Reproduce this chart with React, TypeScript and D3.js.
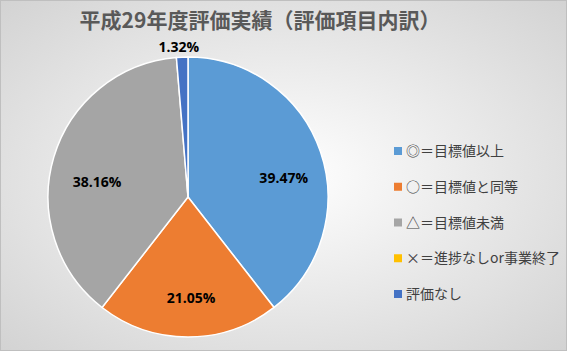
import React, { useEffect, useRef } from 'react';
import * as d3 from 'd3';

const title = '平成29年度評価実績（評価項目内訳）';
const categories = ['◎＝目標値以上', '○＝目標値と同等', '△＝目標値未満', '×＝進捗なしor事業終了', '評価なし'];
const values = [39.47, 21.05, 38.16, 0, 1.32];
const colors = ['#5B9BD5', '#ED7D31', '#A5A5A5', '#FFC000', '#4472C4'];

const App = () => {
  const chartRef = useRef<SVGSVGElement | null>(null);

  useEffect(() => {
    const width = 567;
    const height = 351;
    const svg = d3.select(chartRef.current);
    svg.selectAll('*').remove();

    // background gradient like the office chart area
    const defs = svg.append('defs');
    const grad = defs
      .append('radialGradient')
      .attr('id', 'bg')
      .attr('cx', '50%')
      .attr('cy', '50%')
      .attr('r', '75%');
    grad.append('stop').attr('offset', '0%').attr('stop-color', '#ffffff');
    grad.append('stop').attr('offset', '100%').attr('stop-color', '#d0d0d0');

    svg
      .append('rect')
      .attr('x', 0.5)
      .attr('y', 0.5)
      .attr('width', width - 1)
      .attr('height', height - 1)
      .attr('fill', 'url(#bg)')
      .attr('stroke', '#bfbfbf');

    svg
      .append('text')
      .attr('x', 260)
      .attr('y', 28)
      .attr('text-anchor', 'middle')
      .attr('font-family', '"Noto Sans CJK JP", sans-serif')
      .attr('font-size', 21)
      .attr('font-weight', 'bold')
      .attr('fill', '#595959')
      .text(title);

    const cx = 188;
    const cy = 197;
    const radius = 140;

    const pie = d3
      .pie<number>()
      .sort(null)
      .value((d) => d);
    const arcs = pie(values);
    const arc = d3.arc<d3.PieArcDatum<number>>().innerRadius(0).outerRadius(radius);

    const g = svg.append('g').attr('transform', `translate(${cx}, ${cy})`);

    g.selectAll('path')
      .data(arcs.filter((d) => d.data > 0))
      .enter()
      .append('path')
      .attr('d', arc)
      .attr('fill', (d) => colors[d.index])
      .attr('stroke', '#ffffff')
      .attr('stroke-width', 1.5);

    const inner = d3.arc<d3.PieArcDatum<number>>().innerRadius(radius * 0.7).outerRadius(radius * 0.7);
    const outer = d3.arc<d3.PieArcDatum<number>>().innerRadius(radius * 1.07).outerRadius(radius * 1.07);

    g.selectAll('text.lbl')
      .data(arcs.filter((d) => d.data > 0))
      .enter()
      .append('text')
      .attr('class', 'lbl')
      .attr('transform', (d) => {
        if (d.data < 5) {
          const [x, y] = outer.centroid(d);
          return `translate(${x - 3}, ${y})`;
        }
        const [x, y] = inner.centroid(d);
        // excel-like best fit sits a bit lower on the sides
        return `translate(${x + 3}, ${y + 3 + (10 * Math.abs(x)) / (radius * 0.7)})`;
      })
      .attr('text-anchor', 'middle')
      .attr('dy', '0.35em')
      .attr('font-family', '"Open Sans", sans-serif')
      .attr('font-size', 14)
      .attr('font-weight', 'bold')
      .attr('fill', '#000000')
      .text((d) => `${d.data.toFixed(2)}%`);

    const legendY = d3
      .scalePoint<string>()
      .domain(categories)
      .range([151, 294]);

    const legend = svg
      .append('g')
      .selectAll('g')
      .data(categories)
      .enter()
      .append('g')
      .attr('transform', (d) => `translate(394, ${legendY(d)})`);

    legend
      .append('rect')
      .attr('x', 0)
      .attr('y', -4)
      .attr('width', 8)
      .attr('height', 8)
      .attr('fill', (d, i) => colors[i]);

    legend
      .append('text')
      .attr('x', 12)
      .attr('dy', '0.36em')
      .attr('font-family', '"Noto Sans CJK JP", sans-serif')
      .attr('font-size', 14)
      .attr('fill', '#404040')
      .text((d) => d);
  }, []);

  return (
    <svg
      ref={chartRef}
      width={567}
      height={351}
      style={{ position: 'absolute', left: 0, top: 0, display: 'block' }}
    />
  );
};

export default App;
